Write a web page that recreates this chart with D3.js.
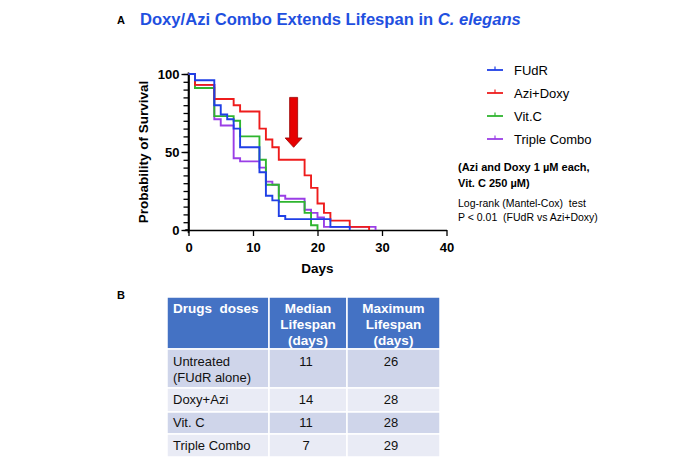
<!DOCTYPE html>
<html>
<head>
<meta charset="utf-8">
<script src="https://cdn.jsdelivr.net/npm/d3@7"></script>
<style>
  body { margin: 0; background: #fff; }
  text { font-family: "Liberation Sans", Arial, sans-serif; white-space: pre; }
</style>
</head>
<body>
<div id="chart"></div>
<script>
// survival curves (day, % alive)
var fudrDays   = [0, 1, 4, 5, 6, 7, 8, 11, 12, 13, 14, 15, 22, 25];
var fudrSurv   = [100, 96, 80, 74, 71, 65, 53, 37, 22, 19, 9, 7, 2, 0];
var doxyDays   = [0, 1, 4, 7, 8, 11, 12, 13, 14, 18, 19, 20, 21, 22, 25, 28];
var doxySurv   = [100, 93, 84, 80, 76, 65, 58, 53, 45, 35, 27, 17, 11, 6, 2, 0];
var vitcDays   = [0, 1, 4, 7, 8, 11, 12, 14, 18, 19, 20];
var vitcSurv   = [100, 91, 73, 70, 60, 45, 29, 18, 11, 3, 0];
var tripleDays = [0, 1, 4, 5, 7, 8, 11, 12, 13, 14, 15, 18, 19, 20, 21, 29];
var tripleSurv = [100, 93, 71, 67, 46, 44, 40, 31, 29, 22, 20, 13, 11, 8, 2, 0];

var seriesNames  = ["FUdR", "Azi+Doxy", "Vit.C", "Triple Combo"];
var seriesColors = ["#1f3fe6", "#ee1c1c", "#2fb52f", "#9a3ee6"];

var xTicks = [0, 10, 20, 30, 40];
var yTicks = [0, 50, 100];

// arrow pointing at the Azi+Doxy curve
var arrowDay = 16.3, arrowTop = 85, arrowNeck = 59, arrowTip = 53;

// table B
var tableHeader = [["Drugs  doses"], ["Median", "Lifespan", "(days)"], ["Maximum", "Lifespan", "(days)"]];
var tableDrugs  = [["Untreated", "(FUdR alone)"], ["Doxy+Azi"], ["Vit. C"], ["Triple Combo"]];
var medianLife  = [11, 14, 11, 7];
var maxLife     = [26, 28, 28, 29];

var svg = d3.select("#chart").append("svg")
	.attr("width", 700)
	.attr("height", 466);

svg.append("rect").attr("width", 700).attr("height", 466).attr("fill", "#fff");

var x = d3.scaleLinear().domain([0, 40]).range([188.5, 446.5]);
var y = d3.scaleLinear().domain([0, 100]).range([230, 74]);

// titles
svg.append("text").attr("x", 117).attr("y", 24)
	.attr("font-size", 11).attr("font-weight", "bold").text("A");

var title = svg.append("text").attr("x", 140).attr("y", 25)
	.attr("font-size", 16.6).attr("font-weight", "bold").attr("fill", "#1f50e0");
title.append("tspan").text("Doxy/Azi Combo Extends Lifespan in ");
title.append("tspan").attr("font-style", "italic").text("C. elegans");

// axes
var yMinor = svg.append("g")
	.attr("transform", "translate(" + x(0) + ",0)")
	.call(d3.axisLeft(y).tickValues(d3.range(0, 101, 5)).tickSize(5).tickSizeOuter(0).tickFormat(""));
yMinor.select(".domain").remove();

var yAxis = svg.append("g")
	.attr("transform", "translate(" + x(0) + ",0)")
	.call(d3.axisLeft(y).tickValues(yTicks).tickSize(7).tickSizeOuter(0).tickPadding(2));

var xAxis = svg.append("g")
	.attr("transform", "translate(0," + y(0) + ")")
	.call(d3.axisBottom(x).tickValues(xTicks).tickSize(6).tickSizeOuter(0).tickPadding(7));

[yMinor, yAxis, xAxis].forEach(g => {
	g.selectAll("line").attr("stroke", "#000").attr("stroke-width", 1.3);
	g.selectAll(".domain").attr("stroke", "#000").attr("stroke-width", 1.6);
	g.selectAll("text").attr("font-size", 13).attr("font-weight", "bold")
		.attr("font-family", "'Liberation Sans', Arial, sans-serif").attr("fill", "#000");
});

// axis line overhang like the original
svg.append("line").attr("x1", x(0)).attr("x2", x(0)).attr("y1", y(101)).attr("y2", y(-2))
	.attr("stroke", "#000").attr("stroke-width", 1.6);
svg.append("line").attr("x1", x(-0.5)).attr("x2", x(0)).attr("y1", y(0)).attr("y2", y(0))
	.attr("stroke", "#000").attr("stroke-width", 1.6);

svg.append("text")
	.attr("transform", "translate(148," + y(50) + ") rotate(-90)")
	.attr("text-anchor", "middle")
	.attr("font-size", 13.5).attr("font-weight", "bold")
	.text("Probability of Survival");

svg.append("text").attr("x", x(20)).attr("y", 273)
	.attr("text-anchor", "middle").attr("font-size", 13.5).attr("font-weight", "bold")
	.text("Days");

// curves
var allDays = [fudrDays, doxyDays, vitcDays, tripleDays];
var allSurv = [fudrSurv, doxySurv, vitcSurv, tripleSurv];

var line = d3.line()
	.x(d => x(d[0]))
	.y(d => y(d[1]))
	.curve(d3.curveStepAfter);

// draw order: purple, green, red, blue on top
[3, 2, 1, 0].forEach(k => {
	var pts = allDays[k].map((d, i) => [d, allSurv[k][i]]);
	svg.append("path")
		.attr("d", line(pts))
		.attr("fill", "none")
		.attr("stroke", seriesColors[k])
		.attr("stroke-width", 1.9);
});

// red arrow
var ax = x(arrowDay);
var arrowPts = [
	[ax - 4, y(arrowTop)], [ax + 4, y(arrowTop)], [ax + 4, y(arrowNeck)], [ax + 8.5, y(arrowNeck)],
	[ax, y(arrowTip)], [ax - 8.5, y(arrowNeck)], [ax - 4, y(arrowNeck)]
];
svg.append("path")
	.attr("d", "M" + arrowPts.join("L") + "Z")
	.attr("fill", "#e60000")
	.attr("stroke", "#9a0000")
	.attr("stroke-width", 0.8);

// legend
var legend = svg.append("g").attr("transform", "translate(487,70)");
seriesNames.forEach((name, i) => {
	var g = legend.append("g").attr("transform", "translate(0," + (i * 23) + ")");
	g.append("line").attr("x1", 0).attr("x2", 16).attr("stroke", seriesColors[i]).attr("stroke-width", 1.8);
	g.append("line").attr("x1", 8).attr("x2", 8).attr("y1", -3.5).attr("y2", 0)
		.attr("stroke", seriesColors[i]).attr("stroke-width", 1.2);
	g.append("text").attr("x", 27).attr("dy", "0.35em").attr("font-size", 13).text(name);
});

// notes
svg.append("text").attr("x", 458).attr("y", 171)
	.attr("font-size", 11).attr("font-weight", "bold").text("(Azi and Doxy 1 \u00b5M each,");
svg.append("text").attr("x", 458).attr("y", 187)
	.attr("font-size", 11).attr("font-weight", "bold").text("Vit. C 250 \u00b5M)");
svg.append("text").attr("x", 458).attr("y", 207)
	.attr("font-size", 10.5).text("Log-rank (Mantel-Cox)  test");
svg.append("text").attr("x", 458).attr("y", 221)
	.attr("font-size", 10.5).text("P < 0.01  (FUdR vs Azi+Doxy)");

// table B
svg.append("text").attr("x", 117).attr("y", 299)
	.attr("font-size", 11).attr("font-weight", "bold").text("B");

var colEdges = [167, 269, 347, 440];
var rowEdges = [297, 349, 388, 412, 434, 457];
var rowFills = ["#4472c4", "#cfd5ea", "#e9ebf5", "#cfd5ea", "#e9ebf5"];

var table = svg.append("g");
for (var r = 0; r < rowFills.length; r++) {
	for (var c = 0; c < 3; c++) {
		table.append("rect")
			.attr("x", colEdges[c]).attr("y", rowEdges[r])
			.attr("width", colEdges[c + 1] - colEdges[c]).attr("height", rowEdges[r + 1] - rowEdges[r])
			.attr("fill", rowFills[r]).attr("stroke", "#fff").attr("stroke-width", 1.5);
	}
}

tableHeader.forEach((lines, c) => {
	var cx = c == 0 ? 173 : (colEdges[c] + colEdges[c + 1]) / 2;
	lines.forEach((t, j) => {
		table.append("text")
			.attr("x", cx).attr("y", 313 + j * 16)
			.attr("text-anchor", c == 0 ? "start" : "middle")
			.attr("font-size", 13.5).attr("font-weight", "bold").attr("fill", "#fff")
			.text(t);
	});
});

var rowText = [366, 404, 427, 450];
tableDrugs.forEach((lines, r) => {
	lines.forEach((t, j) => {
		table.append("text").attr("x", 173).attr("y", rowText[r] + j * 16)
			.attr("font-size", 13).attr("fill", "#111").text(t);
	});
	table.append("text").attr("x", 306).attr("y", rowText[r])
		.attr("text-anchor", "middle").attr("font-size", 13).attr("fill", "#111").text(medianLife[r]);
	table.append("text").attr("x", 391).attr("y", rowText[r])
		.attr("text-anchor", "middle").attr("font-size", 13).attr("fill", "#111").text(maxLife[r]);
});
</script>
</body>
</html>
